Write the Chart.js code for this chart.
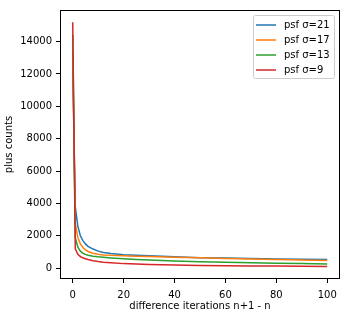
<!DOCTYPE html>
<html>
<head>
<meta charset="utf-8">
<script src="https://cdn.jsdelivr.net/npm/chart.js@4/dist/chart.umd.min.js"></script>
<style>
  html, body { margin: 0; padding: 0; background: #fff; }
  #chart { display: block; }
</style>
</head>
<body>
<canvas id="chart" width="345" height="317"></canvas>
<script>
// iteration differences (x positions where values were read)
const iterations = [0, 1, 2, 3, 4, 5, 6, 8, 10, 12, 15, 20, 25, 30, 40, 50, 60, 70, 80, 90, 100];

// plus counts per psf width
const sigma21 = [12400, 3800, 2600, 2000, 1700, 1500, 1350, 1180, 1050, 970, 900, 830, 790, 760, 700, 650, 620, 590, 570, 550, 530];
const sigma17 = [13400, 2750, 1900, 1500, 1280, 1130, 1030, 920, 860, 820, 790, 760, 740, 720, 680, 640, 600, 560, 530, 500, 470];
const sigma13 = [14400, 1900, 1300, 1050, 920, 850, 800, 740, 700, 670, 630, 580, 540, 500, 440, 400, 360, 330, 300, 280, 260];
const sigma9  = [15200, 1200, 850, 720, 640, 580, 530, 460, 410, 370, 330, 280, 250, 220, 190, 170, 150, 140, 130, 120, 110];

const seriesLabels = ['psf σ=21', 'psf σ=17', 'psf σ=13', 'psf σ=9'];
const seriesValues = [sigma21, sigma17, sigma13, sigma9];
const seriesColors = ['#1f77b4', '#ff7f0e', '#2ca02c', '#d62728'];

const xTicks = [0, 20, 40, 60, 80, 100];
const yTicks = [0, 2000, 4000, 6000, 8000, 10000, 12000, 14000];

const font = { family: 'DejaVu Sans', size: 10 };

// axes box + legend drawn like matplotlib
const framePlugin = {
  id: 'frame',
  afterDraw(chart) {
    const { ctx, chartArea: a } = chart;
    ctx.save();
    ctx.strokeStyle = '#000';
    ctx.lineWidth = 1;
    ctx.strokeRect(Math.round(a.left) + 0.5, Math.round(a.top) + 0.5,
      Math.round(a.right - a.left) - 1, Math.round(a.bottom - a.top) - 1);

    // legend
    const bx = a.right - 87, by = a.top + 5, bw = 81, bh = 63;
    ctx.fillStyle = 'rgba(255,255,255,0.8)';
    ctx.strokeStyle = '#cccccc';
    ctx.beginPath();
    ctx.roundRect(bx + 0.5, by + 0.5, bw, bh, 2);
    ctx.fill();
    ctx.stroke();
    ctx.font = '10px "DejaVu Sans"';
    ctx.textBaseline = 'middle';
    chart.data.datasets.forEach((ds, i) => {
      const y = by + 10 + i * 15;
      ctx.strokeStyle = ds.borderColor;
      ctx.lineWidth = 1.5;
      ctx.beginPath();
      ctx.moveTo(bx + 3, y);
      ctx.lineTo(bx + 23, y);
      ctx.stroke();
      ctx.fillStyle = '#000';
      ctx.fillText(ds.label, bx + 31, y);
    });
    ctx.restore();
  }
};

new Chart(document.getElementById('chart'), {
  type: 'line',
  data: {
    datasets: seriesLabels.map((label, i) => ({
      label: label,
      data: iterations.map((x, j) => ({ x: x, y: seriesValues[i][j] })),
      borderColor: seriesColors[i],
      backgroundColor: seriesColors[i],
      borderWidth: 1.5,
      pointRadius: 0,
      tension: 0,
      order: 4 - i
    }))
  },
  options: {
    responsive: false,
    animation: false,
    layout: { padding: { top: 7, right: 5, left: 0, bottom: 0 } },
    plugins: { legend: { display: false }, tooltip: { enabled: false } },
    scales: {
      x: {
        type: 'linear',
        min: -5,
        max: 105,
        afterBuildTicks: s => { s.ticks = xTicks.map(v => ({ value: v })); },
        afterFit: s => { s.height = 38; },
        grid: { display: true, drawOnChartArea: false, drawTicks: true, tickLength: 4, color: '#000' },
        border: { display: false },
        ticks: { font: font, color: '#000', padding: 6, maxRotation: 0, callback: v => String(v) },
        title: { display: true, text: 'difference iterations n+1 - n', font: font, color: '#000', padding: { top: 1, bottom: 5 } }
      },
      y: {
        type: 'linear',
        min: -670,
        max: 15950,
        afterBuildTicks: s => { s.ticks = yTicks.map(v => ({ value: v })); },
        afterFit: s => { s.width = 60; },
        grid: { display: true, drawOnChartArea: false, drawTicks: true, tickLength: 4, color: '#000' },
        border: { display: false },
        ticks: { font: font, color: '#000', padding: 4, callback: v => String(v) },
        title: { display: true, text: 'plus counts', font: font, color: '#000', padding: { top: 3, bottom: 0 } }
      }
    }
  },
  plugins: [framePlugin]
});
</script>
</body>
</html>
